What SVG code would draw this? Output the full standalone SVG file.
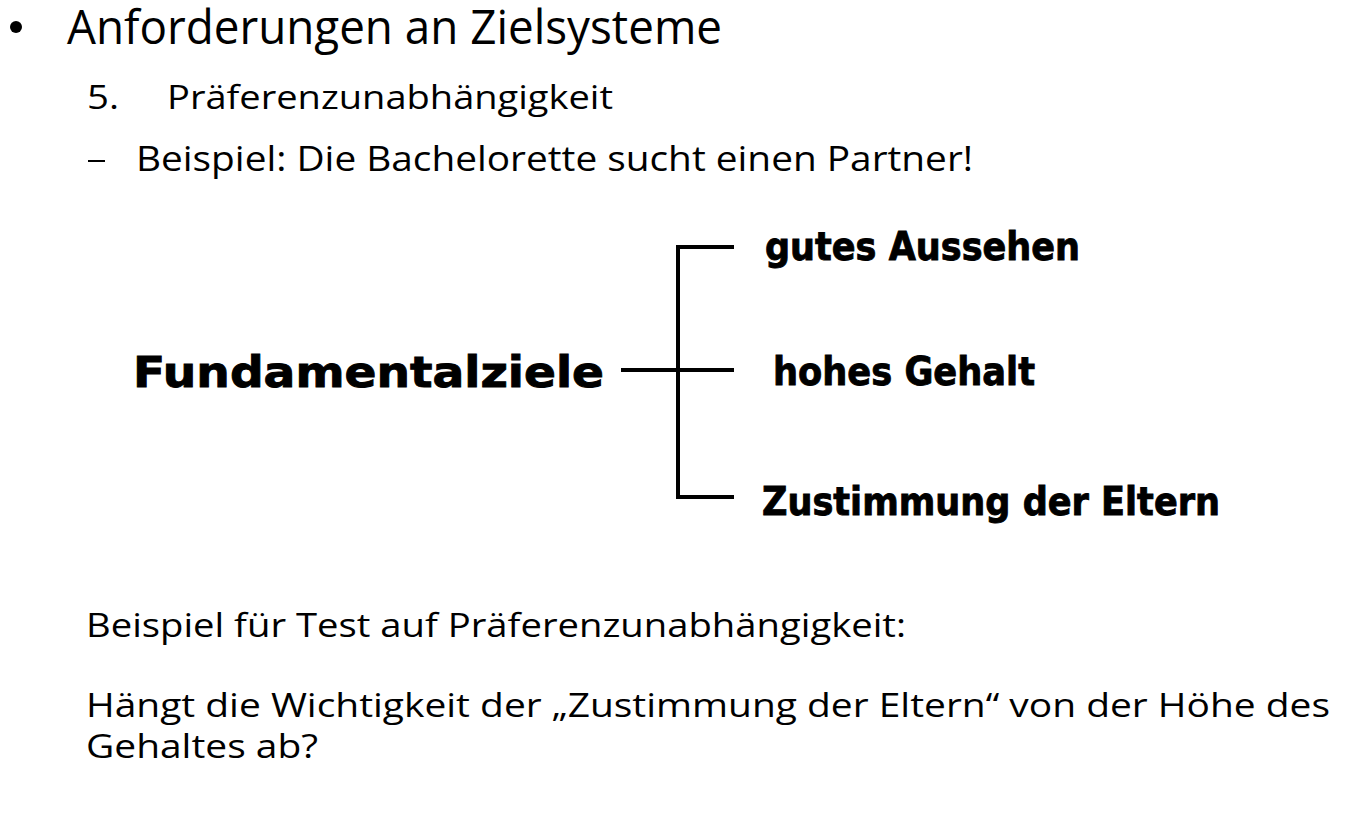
<svg xmlns="http://www.w3.org/2000/svg" width="1345" height="813" viewBox="0 0 1345 813">
<style>
.t{font-family:"Open Sans","Liberation Sans",sans-serif;fill:#000}
.b{font-family:"DejaVu Sans","Liberation Sans",sans-serif;font-weight:bold;fill:#000;stroke:#000;stroke-width:0.9}
.c{stroke:#000;stroke-width:4;fill:none;stroke-linecap:butt}
</style>
<rect width="1345" height="813" fill="#fff"/>
<g id="header">
<circle cx="16" cy="27" r="6" fill="#000"/>
<text class="t" x="67" y="44" font-size="47" textLength="655" lengthAdjust="spacingAndGlyphs">Anforderungen an Zielsysteme</text>
<text class="t" x="87" y="109" font-size="33" textLength="32" lengthAdjust="spacingAndGlyphs">5.</text>
<text class="t" x="167" y="109" font-size="33" textLength="446" lengthAdjust="spacingAndGlyphs">Präferenzunabhängigkeit</text>
<rect x="88" y="160" width="17" height="2" fill="#000"/>
<text class="t" x="136" y="171" font-size="35" textLength="837" lengthAdjust="spacingAndGlyphs">Beispiel: Die Bachelorette sucht einen Partner!</text>
</g>
<g id="connectors">
<path class="c" d="M734,247 H678 V497 H734"/>
<path class="c" d="M621,370 H734"/>
</g>
<g id="node-root"><text class="b" x="133" y="387" font-size="43" textLength="471" lengthAdjust="spacingAndGlyphs">Fundamentalziele</text></g>
<g id="node-aussehen"><text class="b" x="765" y="260" font-size="39" textLength="315" lengthAdjust="spacingAndGlyphs">gutes Aussehen</text></g>
<g id="node-gehalt"><text class="b" x="773" y="385" font-size="39" textLength="262" lengthAdjust="spacingAndGlyphs">hohes Gehalt</text></g>
<g id="node-eltern"><text class="b" x="762" y="515" font-size="39" textLength="458" lengthAdjust="spacingAndGlyphs">Zustimmung der Eltern</text></g>
<g id="footer">
<text class="t" x="86" y="637" font-size="33" textLength="820" lengthAdjust="spacingAndGlyphs">Beispiel für Test auf Präferenzunabhängigkeit:</text>
<text class="t" x="86" y="717" font-size="33" textLength="1244" lengthAdjust="spacingAndGlyphs">Hängt die Wichtigkeit der „Zustimmung der Eltern“ von der Höhe des</text>
<text class="t" x="86" y="758" font-size="33" textLength="232" lengthAdjust="spacingAndGlyphs">Gehaltes ab?</text>
</g>
</svg>
